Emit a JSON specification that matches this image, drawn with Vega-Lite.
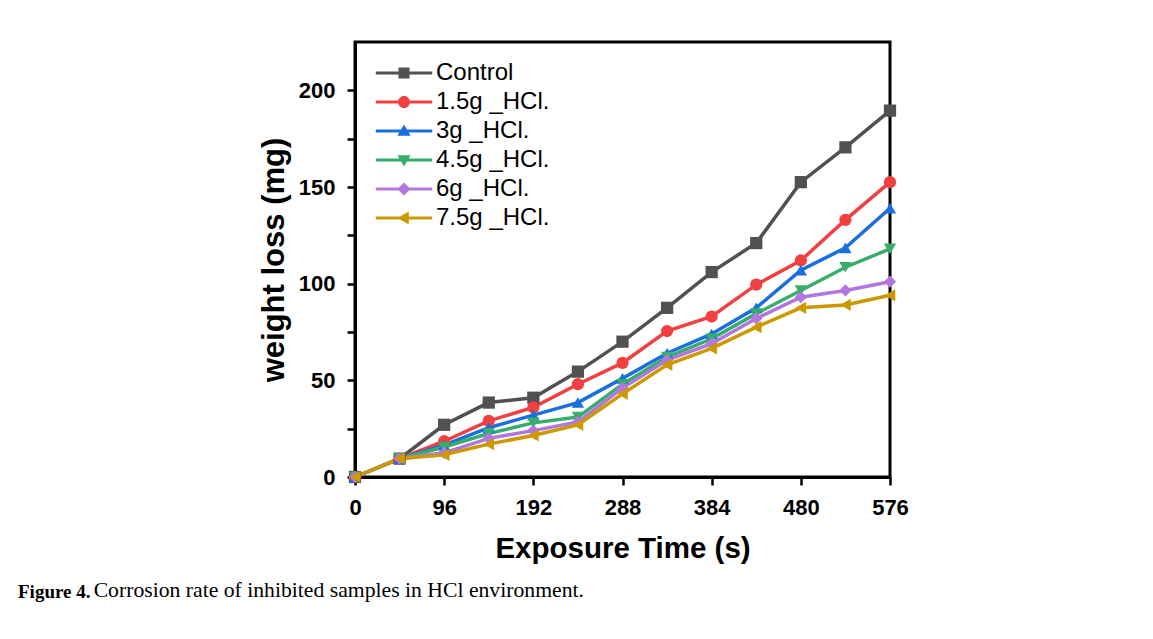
{
  "$schema": "https://vega.github.io/schema/vega-lite/v6.json",
  "width": 535,
  "height": 435,
  "autosize": {"type": "none"},
  "padding": {"left": 355, "top": 42, "right": 263, "bottom": 162},
  "background": "white",
  "title": {
    "text": "Figure 4.",
    "subtitle": "\u2800\u00a0\u00a0\u00a0\u00a0\u00a0\u00a0\u00a0\u00a0\u00a0\u00a0\u00a0Corrosion rate of inhibited samples in HCl environment.",
    "orient": "bottom",
    "anchor": "start",
    "frame": "group",
    "dx": -337,
    "offset": 20,
    "font": "Liberation Serif",
    "fontSize": 19,
    "fontWeight": "bold",
    "color": "black",
    "subtitleFont": "Liberation Serif",
    "subtitleFontSize": 21.7,
    "subtitleFontWeight": "normal",
    "subtitleColor": "black",
    "subtitlePadding": -21.5
  },
  "data": {
    "values": [
      {"t": 0, "w": 0, "s": "Control"}, {"t": 48, "w": 9.5, "s": "Control"}, {"t": 96, "w": 27, "s": "Control"}, {"t": 144, "w": 38.5, "s": "Control"}, {"t": 192, "w": 41, "s": "Control"}, {"t": 240, "w": 54.5, "s": "Control"}, {"t": 288, "w": 70, "s": "Control"}, {"t": 336, "w": 87.5, "s": "Control"}, {"t": 384, "w": 106, "s": "Control"}, {"t": 432, "w": 121, "s": "Control"}, {"t": 480, "w": 152.5, "s": "Control"}, {"t": 528, "w": 170.5, "s": "Control"}, {"t": 576, "w": 189.5, "s": "Control"},
      {"t": 0, "w": 0, "s": "1.5g _HCl."}, {"t": 48, "w": 9.5, "s": "1.5g _HCl."}, {"t": 96, "w": 18.5, "s": "1.5g _HCl."}, {"t": 144, "w": 29, "s": "1.5g _HCl."}, {"t": 192, "w": 36, "s": "1.5g _HCl."}, {"t": 240, "w": 48, "s": "1.5g _HCl."}, {"t": 288, "w": 59, "s": "1.5g _HCl."}, {"t": 336, "w": 75.5, "s": "1.5g _HCl."}, {"t": 384, "w": 83, "s": "1.5g _HCl."}, {"t": 432, "w": 99.5, "s": "1.5g _HCl."}, {"t": 480, "w": 112, "s": "1.5g _HCl."}, {"t": 528, "w": 133, "s": "1.5g _HCl."}, {"t": 576, "w": 152.5, "s": "1.5g _HCl."},
      {"t": 0, "w": 0, "s": "3g _HCl."}, {"t": 48, "w": 9.5, "s": "3g _HCl."}, {"t": 96, "w": 16.5, "s": "3g _HCl."}, {"t": 144, "w": 25.5, "s": "3g _HCl."}, {"t": 192, "w": 32, "s": "3g _HCl."}, {"t": 240, "w": 38.5, "s": "3g _HCl."}, {"t": 288, "w": 51, "s": "3g _HCl."}, {"t": 336, "w": 64, "s": "3g _HCl."}, {"t": 384, "w": 74, "s": "3g _HCl."}, {"t": 432, "w": 87.5, "s": "3g _HCl."}, {"t": 480, "w": 107, "s": "3g _HCl."}, {"t": 528, "w": 118.5, "s": "3g _HCl."}, {"t": 576, "w": 139, "s": "3g _HCl."},
      {"t": 0, "w": 0, "s": "4.5g _HCl."}, {"t": 48, "w": 9.5, "s": "4.5g _HCl."}, {"t": 96, "w": 15.5, "s": "4.5g _HCl."}, {"t": 144, "w": 22.5, "s": "4.5g _HCl."}, {"t": 192, "w": 28, "s": "4.5g _HCl."}, {"t": 240, "w": 31, "s": "4.5g _HCl."}, {"t": 288, "w": 48, "s": "4.5g _HCl."}, {"t": 336, "w": 62, "s": "4.5g _HCl."}, {"t": 384, "w": 71.5, "s": "4.5g _HCl."}, {"t": 432, "w": 84.5, "s": "4.5g _HCl."}, {"t": 480, "w": 96.5, "s": "4.5g _HCl."}, {"t": 528, "w": 108.5, "s": "4.5g _HCl."}, {"t": 576, "w": 118, "s": "4.5g _HCl."},
      {"t": 0, "w": 0, "s": "6g _HCl."}, {"t": 48, "w": 9.5, "s": "6g _HCl."}, {"t": 96, "w": 12.5, "s": "6g _HCl."}, {"t": 144, "w": 20, "s": "6g _HCl."}, {"t": 192, "w": 24, "s": "6g _HCl."}, {"t": 240, "w": 28.5, "s": "6g _HCl."}, {"t": 288, "w": 46, "s": "6g _HCl."}, {"t": 336, "w": 60.5, "s": "6g _HCl."}, {"t": 384, "w": 69, "s": "6g _HCl."}, {"t": 432, "w": 82, "s": "6g _HCl."}, {"t": 480, "w": 93, "s": "6g _HCl."}, {"t": 528, "w": 96.5, "s": "6g _HCl."}, {"t": 576, "w": 101, "s": "6g _HCl."},
      {"t": 0, "w": 0, "s": "7.5g _HCl."}, {"t": 48, "w": 9.5, "s": "7.5g _HCl."}, {"t": 96, "w": 11.5, "s": "7.5g _HCl."}, {"t": 144, "w": 17, "s": "7.5g _HCl."}, {"t": 192, "w": 21.5, "s": "7.5g _HCl."}, {"t": 240, "w": 27, "s": "7.5g _HCl."}, {"t": 288, "w": 43, "s": "7.5g _HCl."}, {"t": 336, "w": 58, "s": "7.5g _HCl."}, {"t": 384, "w": 66.5, "s": "7.5g _HCl."}, {"t": 432, "w": 77.5, "s": "7.5g _HCl."}, {"t": 480, "w": 87.5, "s": "7.5g _HCl."}, {"t": 528, "w": 89, "s": "7.5g _HCl."}, {"t": 576, "w": 94, "s": "7.5g _HCl."}
    ]
  },
  "encoding": {
    "x": {
      "field": "t",
      "type": "quantitative",
      "scale": {"domain": [0, 576], "nice": false, "zero": false},
      "axis": {
        "title": "Exposure Time (s)",
        "values": [0, 96, 192, 288, 384, 480, 576],
        "labelFlush": false,
        "labelPadding": 12,
        "titlePadding": 16,
        "titleFontSize": 29.5
      }
    },
    "y": {
      "field": "w",
      "type": "quantitative",
      "scale": {"domain": [0, 225], "nice": false},
      "axis": {
        "title": "weight loss (mg)",
        "values": [0, 25, 50, 75, 100, 125, 150, 175, 200],
        "labelExpr": "datum.value % 50 === 0 ? datum.label : ''",
        "labelPadding": 12,
        "titlePadding": 8,
        "titleFontSize": 31
      }
    },
    "color": {
      "field": "s",
      "type": "nominal",
      "scale": {
        "domain": ["Control", "1.5g _HCl.", "3g _HCl.", "4.5g _HCl.", "6g _HCl.", "7.5g _HCl."],
        "range": ["#515151", "#F14040", "#1A6FDF", "#37AD6B", "#B177DE", "#CC9900"]
      },
      "legend": null
    }
  },
  "layer": [
    {
      "mark": {"type": "line", "strokeWidth": 3.5}
    },
    {
      "mark": {"type": "point", "filled": true, "opacity": 1, "size": 150},
      "encoding": {
        "shape": {
          "field": "s",
          "type": "nominal",
          "scale": {
            "domain": ["Control", "1.5g _HCl.", "3g _HCl.", "4.5g _HCl.", "6g _HCl.", "7.5g _HCl."],
            "range": ["square", "circle", "triangle-up", "triangle-down", "diamond", "triangle-left"]
          },
          "legend": null
        }
      }
    },
    {
      "transform": [{"filter": "false"}],
      "mark": {"type": "point", "filled": true, "opacity": 1},
      "encoding": {
        "color": {
          "field": "s",
          "type": "nominal",
          "scale": {
            "domain": ["Control", "1.5g _HCl.", "3g _HCl.", "4.5g _HCl.", "6g _HCl.", "7.5g _HCl."],
            "range": ["#515151", "#F14040", "#1A6FDF", "#37AD6B", "#B177DE", "#CC9900"]
          },
          "legend": {
            "title": null,
            "orient": "none",
            "legendX": 37,
            "legendY": 19,
            "symbolSize": 144,
            "labelOffset": 20,
            "rowPadding": 5,
            "labelFont": "Liberation Sans",
            "labelFontSize": 24,
            "labelColor": "black",
            "padding": 0,
            "symbolStrokeWidth": 0,
            "symbolOpacity": 1
          }
        },
        "shape": {
          "field": "s",
          "type": "nominal",
          "scale": {
            "domain": ["Control", "1.5g _HCl.", "3g _HCl.", "4.5g _HCl.", "6g _HCl.", "7.5g _HCl."],
            "range": [
              "M-4.7,-0.27H4.7V0.27H-4.7ZM-0.92,-0.92H0.92V0.92H-0.92Z",
              "M-4.7,-0.27H4.7V0.27H-4.7ZM-1,0A1,1 0 1,1 1,0A1,1 0 1,1 -1,0Z",
              "M-4.7,-0.27H4.7V0.27H-4.7ZM0,-1.1L1.1,0.8L-1.1,0.8Z",
              "M-4.7,-0.27H4.7V0.27H-4.7ZM0,1.1L-1.1,-0.8L1.1,-0.8Z",
              "M-4.7,-0.27H4.7V0.27H-4.7ZM0,-1.1L1.1,0L0,1.1L-1.1,0Z",
              "M-4.7,-0.27H4.7V0.27H-4.7ZM-1.1,0L0.8,-1.1L0.8,1.1Z"
            ]
          },
          "legend": {
            "title": null,
            "orient": "none",
            "legendX": 37,
            "legendY": 19,
            "symbolSize": 144,
            "labelOffset": 20,
            "rowPadding": 5,
            "labelFont": "Liberation Sans",
            "labelFontSize": 24,
            "labelColor": "black",
            "padding": 0,
            "symbolStrokeWidth": 0,
            "symbolOpacity": 1
          }
        }
      }
    }
  ],
  "resolve": {"scale": {"shape": "independent", "color": "independent"}},
  "config": {
    "view": {"stroke": "black", "strokeWidth": 3},
    "axis": {
      "grid": false,
      "domainColor": "black",
      "domainWidth": 3,
      "tickColor": "black",
      "tickWidth": 2.5,
      "tickSize": 8,
      "labelFont": "Liberation Sans",
      "labelFontSize": 22,
      "labelFontWeight": "bold",
      "labelColor": "black",
      "titleFont": "Liberation Sans",
      "titleFontSize": 28,
      "titleFontWeight": "bold",
      "titleColor": "black"
    }
  }
}
